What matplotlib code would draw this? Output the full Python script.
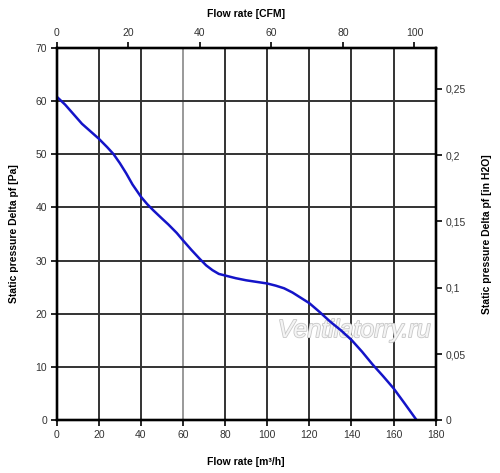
import matplotlib
matplotlib.use("Agg")
import matplotlib.pyplot as plt
import matplotlib.patheffects as pe
from matplotlib.ticker import FixedLocator, FuncFormatter

plt.rcParams['font.family'] = ['Liberation Sans', 'DejaVu Sans']

# fan curve
flow_m3h = [0, 4, 8, 12, 16, 20, 24, 27, 30, 33, 36, 40, 43, 46, 50, 53,
            57, 60, 64, 68, 71, 74, 77, 81, 85, 90, 95, 100, 104, 108, 112,
            116, 120, 125, 130, 135, 140, 145, 150, 155, 160, 165, 171]
pressure_pa = [60.8, 59.3, 57.5, 55.7, 54.3, 52.9, 51.3, 50.0, 48.3, 46.4,
               44.3, 42.0, 40.6, 39.4, 37.9, 36.8, 35.2, 33.8, 32.0, 30.3,
               29.1, 28.2, 27.5, 27.1, 26.7, 26.3, 26.0, 25.7, 25.3, 24.8,
               24.0, 23.0, 22.0, 20.3, 18.5, 16.9, 15.1, 12.9, 10.5, 8.3,
               6.0, 3.3, 0.0]

x_ticks = [0, 20, 40, 60, 80, 100, 120, 140, 160, 180]
y_ticks = [0, 10, 20, 30, 40, 50, 60, 70]
cfm_ticks = [0, 20, 40, 60, 80, 100]
inh2o_ticks = [0, 0.05, 0.1, 0.15, 0.2, 0.25]

M3H_PER_CFM = 1.699
PA_PER_INH2O = 249.09

fig = plt.figure(figsize=(5, 4.73), dpi=100)
ax = fig.add_axes([0.1134, 0.1114, 0.758, 0.7878])

ax.plot(flow_m3h, pressure_pa, color='#1414c8', lw=1.8, zorder=3,
        solid_joinstyle='round')

ax.set_xlim(0, 180)
ax.set_ylim(0, 70)
ax.xaxis.set_major_locator(FixedLocator(x_ticks))
ax.yaxis.set_major_locator(FixedLocator(y_ticks))
ax.grid(True, color='#333333', lw=1.4)
gl = ax.xaxis.get_gridlines()
gl[3].set_color('#999999')

for s in ax.spines.values():
    s.set_linewidth(1.6)
    s.set_color('black')

ax.tick_params(direction='out', length=4, width=1.2, labelsize=7.5,
               colors='black', labelcolor='#333333', pad=3)
ax.set_xlabel('Flow rate [m³/h]', fontsize=7.5, fontweight='bold', labelpad=12)
ax.set_ylabel('Static pressure Delta pf [Pa]', fontsize=7.5, fontweight='bold',
              labelpad=12)

# top axis in CFM
top = ax.twiny()
top.set_xlim(0, 180 / M3H_PER_CFM)
top.xaxis.set_major_locator(FixedLocator(cfm_ticks))
top.tick_params(direction='out', length=4, width=1.2, labelsize=7.5,
                labelcolor='#333333', pad=3)
top.set_xlabel('Flow rate [CFM]', fontsize=7.5, fontweight='bold', labelpad=8)

# right axis in in H2O
right = ax.twinx()
right.set_ylim(0, 70 / PA_PER_INH2O)
right.yaxis.set_major_locator(FixedLocator(inh2o_ticks))
right.yaxis.set_major_formatter(
    FuncFormatter(lambda v, p: ('%g' % v).replace('.', ',')))
right.tick_params(direction='out', length=4, width=1.2, labelsize=7.5,
                  labelcolor='#333333', pad=3)
right.set_ylabel('Static pressure Delta pf [in H2O]', fontsize=7.5,
                 fontweight='bold', labelpad=12, rotation=90)

for a in (top, right):
    for s in a.spines.values():
        s.set_linewidth(1.6)

ax.text(0.785, 0.242, 'Ventilatorry.ru', transform=ax.transAxes,
        fontsize=18, style='italic', color='#f4f4f4', ha='center',
        va='center', zorder=2.5,
        path_effects=[pe.withStroke(linewidth=1.2, foreground='#c8c8c8')])

fig.savefig('out.png', dpi=100)
